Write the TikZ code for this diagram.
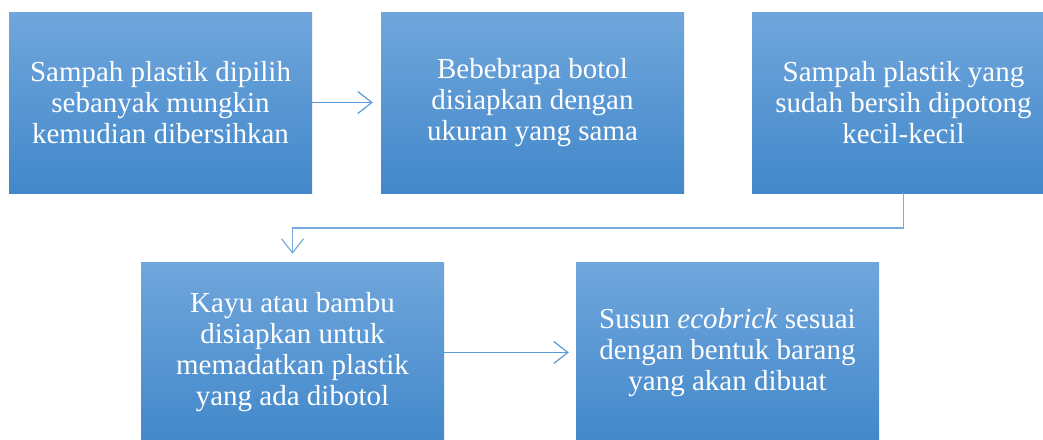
\documentclass[tikz,border=0pt]{standalone}
\usepackage{fontspec}
\setmainfont{Liberation Serif}
\usetikzlibrary{arrows.meta}
\definecolor{boxtop}{RGB}{112,166,220}
\definecolor{boxbot}{RGB}{66,136,202}
\definecolor{arrowc}{RGB}{91,155,213}
\definecolor{elbowc}{RGB}{120,172,224}
\tikzset{
  stepbox/.style={rectangle, inner sep=0pt, minimum width=303pt, minimum height=181pt,
    top color=boxtop, bottom color=boxbot, draw=none, text=white, align=center,
    font=\fontsize{29}{31}\selectfont},
  flow/.style={draw=arrowc, line width=1.2pt, -{Straight Barb[length=14pt,width=22pt,line width=1.2pt]}},
}
\begin{document}
\begin{tikzpicture}[x=1pt,y=-1pt]
\useasboundingbox (0,0) rectangle (1043,439);
\clip (0,0) rectangle (1043,439);
\fill[white] (0,0) rectangle (1043,439);
\node[stepbox] (b1) at (160.5,102.5) {Sampah plastik dipilih\\sebanyak mungkin\\kemudian dibersihkan};
\node[stepbox] (b2) at (532.5,102.5) {Bebebrapa botol\\disiapkan dengan\\ukuran yang sama};
\node[stepbox] (b3) at (903.5,102.5) {Sampah plastik yang\\sudah bersih dipotong\\kecil-kecil};
\node[stepbox] (b4) at (292.5,352.5) {Kayu atau bambu\\disiapkan untuk\\memadatkan plastik\\yang ada dibotol};
\node[stepbox] (b5) at (727.5,352.5) {Susun \textit{ecobrick} sesuai\\dengan bentuk barang\\yang akan dibuat};
\coordinate (e1) at (903.5,228);
\coordinate (e2) at (292.5,228);
\draw[flow, shorten >=8pt] (b1.east) -- (b2.west);
\draw[flow, shorten >=7pt] (b4.east) -- (b5.west);
\draw[flow, draw=elbowc, shorten >=8pt] (b3.south) -- (e1) -- (e2) -- (b4.north);
\end{tikzpicture}
\end{document}
